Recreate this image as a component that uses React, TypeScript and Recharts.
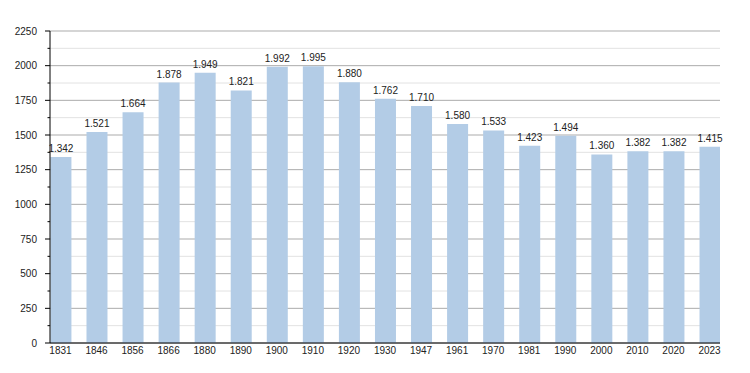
import { BarChart, Bar, XAxis, YAxis, CartesianGrid, LabelList } from "recharts";

const years = [
  "1831", "1846", "1856", "1866", "1880", "1890", "1900", "1910", "1920", "1930",
  "1947", "1961", "1970", "1981", "1990", "2000", "2010", "2020", "2023",
];

const population = [
  1342, 1521, 1664, 1878, 1949, 1821, 1992, 1995, 1880, 1762,
  1710, 1580, 1533, 1423, 1494, 1360, 1382, 1382, 1415,
];

// major ticks every 250, minor ones halfway
const yTicks = [
  0, 125, 250, 375, 500, 625, 750, 875, 1000, 1125, 1250,
  1375, 1500, 1625, 1750, 1875, 2000, 2125, 2250,
];

const data = years.map((year, i) => ({ i, year, population: population[i] }));

const fmt = (v: number) => String(v).replace(/\B(?=(\d{3})+(?!\d))/g, ".");

const YTick = (props: any) => {
  const { x, y, payload } = props;
  const major = payload.value % 250 === 0;
  return (
    <g>
      <line x1={x - (major ? 5 : 2.5)} x2={x} y1={y} y2={y} stroke="#000" />
      {major && (
        <text x={x - 13} y={y} dy={3.6} textAnchor="end" fontSize={10} fill="#222">
          {payload.value}
        </text>
      )}
    </g>
  );
};

const GridLine = (props: any) => {
  const major = props.index % 2 === 0;
  return (
    <line
      key={props.key}
      x1={props.x1}
      y1={props.y1}
      x2={props.x2}
      y2={props.y2}
      stroke={major ? "#ababab" : "#e2e2e2"}
      strokeWidth={1}
    />
  );
};

export default function App() {
  return (
    <div style={{ position: "absolute", left: 0, top: 0, fontFamily: "'Liberation Sans', Arial, sans-serif" }}>
      <BarChart width={750} height={373} data={data} margin={{ top: 31, right: 30, bottom: 0, left: 0 }}>
        <CartesianGrid vertical={false} horizontal={GridLine} />
        <XAxis
          type="number"
          dataKey="i"
          domain={[-0.29, 18.29]}
          allowDataOverflow
          ticks={data.map((d) => d.i)}
          interval={0}
          tickFormatter={(i: number) => years[i]}
          tickLine={false}
          tickSize={0}
          tickMargin={4}
          axisLine={{ stroke: "#000" }}
          tick={{ fontSize: 10, fill: "#222" }}
          height={30}
        />
        <YAxis
          domain={[0, 2250]}
          ticks={yTicks}
          interval={0}
          width={50}
          tickSize={0}
          tickMargin={0}
          tickLine={false}
          axisLine={{ stroke: "#000" }}
          tick={<YTick />}
        />
        <Bar dataKey="population" fill="#b3cce6" barSize={21} isAnimationActive={false}>
          <LabelList dataKey="population" position="top" offset={5} formatter={fmt} fontSize={10} fill="#222" />
        </Bar>
      </BarChart>
    </div>
  );
}
